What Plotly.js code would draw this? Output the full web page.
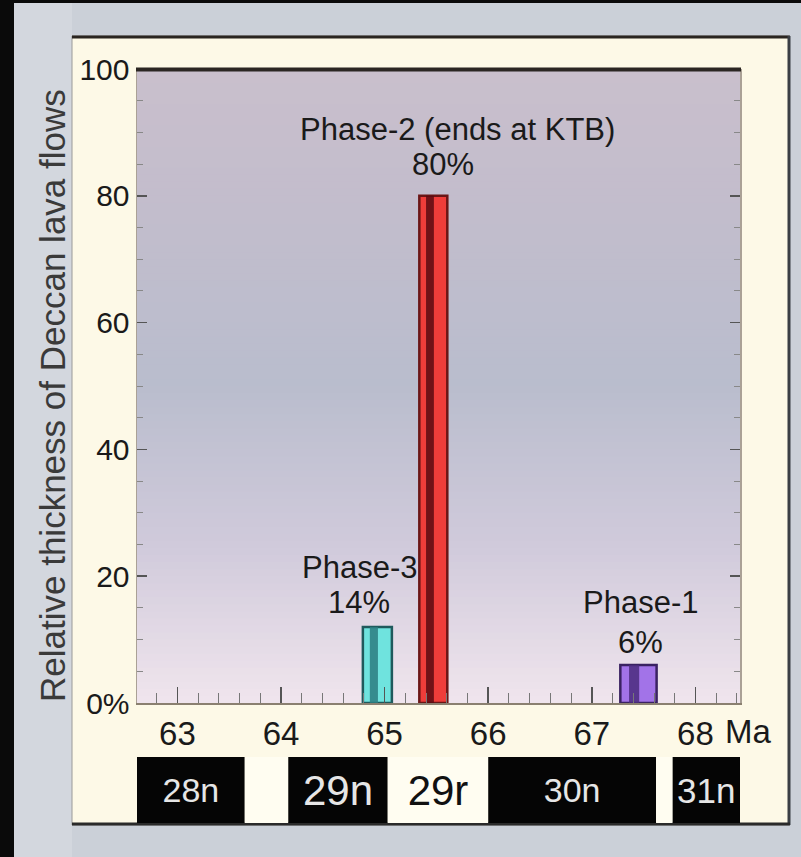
<!DOCTYPE html>
<html>
<head>
<meta charset="utf-8">
<script src="https://cdn.plot.ly/plotly-3.0.1.min.js"></script>
<style>
html,body{margin:0;padding:0;background:#cdd1d9;}
#chart{width:801px;height:857px;}
</style>
</head>
<body>
<div id="chart"></div>
<script>
// ---- Data ----
const phaseNames   = ["Phase-3", "Phase-2 (ends at KTB)", "Phase-1"];
const phaseLabels  = ["14%", "80%", "6%"];
const phaseAgeMa   = [64.93, 65.47, 67.45];   // bar centre (Ma)
const phaseWidthMa = [0.28, 0.27, 0.35];      // bar width (Ma)
const phaseThick   = [12, 80, 6];             // bar height (% relative thickness)

const yTickVals  = [0, 20, 40, 60, 80, 100];
const yTickText  = ["0%", "20", "40", "60", "80", "100"];
const xTickVals  = [63, 64, 65, 66, 67, 68];
const xTickText  = ["63", "64", "65", "66", "67", "68"];

const chronNames = ["28n", "", "29n", "29r", "30n", "", "31n"];
const chronStart = [62.61, 63.65, 64.07, 65.03, 66.00, 67.62, 67.78];
const chronEnd   = [63.65, 64.07, 65.03, 66.00, 67.62, 67.78, 68.43];
const chronPol   = ["n", "r", "n", "r", "n", "r", "n"];

// ---- Styling ----
const FONT = "Liberation Sans, Arial, Helvetica, sans-serif";
const barFill   = ["#6fe3de", "#ef3d3a", "#a273e8"];
const barShade  = ["#2b7d80", "#5a0b12", "#4b2c7e"];
const barBorder = ["#1f5a5c", "#6a1616", "#3a2262"];
const chronFill = chronPol.map(p => p === "n" ? "#050505" : "#fffdf1");
const chronTxt  = chronPol.map(p => p === "n" ? "#e6e6e6" : "#111111");
const chronSize = [34, 0, 42, 42, 34, 0, 35];

// pixel helpers for decoration (plot area: x 137..740, y 69..823)
const W = 801, H = 857, L = 137, R = 740, T = 69, B = 823;
const px = v => (v - L) / (R - L);
const py = v => (B - v) / (B - T);
const mainBottom = py(703);
const chronTop = py(757);

const traces = [
  {
    type: "bar", x: phaseAgeMa, y: phaseThick, width: phaseWidthMa,
    marker: {color: barFill, line: {color: barBorder, width: 2.5}},
    xaxis: "x", yaxis: "y", hoverinfo: "skip", showlegend: false
  },
  {
    type: "bar", x: phaseAgeMa, y: phaseThick,
    width: phaseWidthMa.map(w => w * 0.28),
    offset: phaseWidthMa.map(w => -w * 0.26),
    marker: {color: barShade, opacity: 0.85, line: {width: 0}},
    xaxis: "x", yaxis: "y", hoverinfo: "skip", showlegend: false
  },
  {
    type: "bar", orientation: "h",
    y: chronStart.map(() => 0),
    base: chronStart,
    x: chronStart.map((s, i) => chronEnd[i] - s),
    width: 1,
    text: chronNames,
    textposition: "inside", insidetextanchor: "middle", textangle: 0,
    constraintext: "none",
    textfont: {family: FONT, color: chronTxt, size: chronSize},
    marker: {color: chronFill, line: {width: 0}},
    xaxis: "x", yaxis: "y2", hoverinfo: "skip", showlegend: false
  }
];

// plot-area vertical gradient via stacked strips
function lerp(a, b, t) { return a + (b - a) * t; }
function hex(c) { return [1,3,5].map(i => parseInt(c.substr(i,2),16)); }
const gradStops = [[0, "#c9bfcc"], [0.2, "#c3bdcc"], [0.5, "#b9bdcd"], [0.75, "#d0cadb"], [1, "#f0e5ed"]];
function gradColor(t) {
  for (let i = 0; i < gradStops.length - 1; i++) {
    const [t0, c0] = gradStops[i], [t1, c1] = gradStops[i+1];
    if (t >= t0 && t <= t1) {
      const u = (t - t0) / (t1 - t0), a = hex(c0), b = hex(c1);
      return "rgb(" + a.map((v, k) => Math.round(lerp(v, b[k], u))).join(",") + ")";
    }
  }
  return gradStops[gradStops.length-1][1];
}
const shapes = [];
// lighter band on the left of the slide background
shapes.push({type:"rect", xref:"paper", yref:"paper", x0:px(14), x1:px(72), y0:py(H), y1:py(3), fillcolor:"#d3d7de", line:{width:0}, layer:"below"});
// black frame strips of the slide
shapes.push({type:"rect", xref:"paper", yref:"paper", x0:px(0), x1:px(14), y0:py(H), y1:py(0), fillcolor:"#0a0a0a", line:{width:0}, layer:"below"});
shapes.push({type:"rect", xref:"paper", yref:"paper", x0:px(0), x1:px(W), y0:py(3), y1:py(0), fillcolor:"#0a0a0a", line:{width:0}, layer:"below"});
// cream panel
shapes.push({type:"rect", xref:"paper", yref:"paper", x0:px(72), x1:px(789), y0:py(825), y1:py(36), fillcolor:"#fdf9e7", line:{color:"#9a9a9a", width:1}, layer:"below"});
shapes.push({type:"line", xref:"paper", yref:"paper", x0:px(72), x1:px(790), y0:py(37), y1:py(37), line:{color:"#2a2520", width:3}, layer:"below"});
shapes.push({type:"line", xref:"paper", yref:"paper", x0:px(789), x1:px(789), y0:py(825), y1:py(36), line:{color:"#3a3f45", width:3}, layer:"below"});
shapes.push({type:"line", xref:"paper", yref:"paper", x0:px(72), x1:px(790), y0:py(824), y1:py(824), line:{color:"#2a2a2a", width:3}, layer:"below"});
// gradient
const N = 90;
for (let i = 0; i < N; i++) {
  const t0 = i / N, t1 = (i + 1) / N;
  const yTop = 1 - t0 * (1 - mainBottom), yBot = 1 - t1 * (1 - mainBottom);
  shapes.push({type:"rect", xref:"paper", yref:"paper", x0:0, x1:1, y0:yBot - 0.001, y1:yTop,
    fillcolor: gradColor((t0 + t1) / 2), line:{width:0}, layer:"below"});
}
// thick top edge of plot
shapes.push({type:"line", xref:"paper", yref:"paper", x0:px(136), x1:px(741), y0:py(69.5), y1:py(69.5), line:{color:"#2b2622", width:4}, layer:"above"});

const labelFont = {family:FONT, size:31, color:"#1a1a1a"};
function lab(text, x, y) {
  return {text: text, x: x, y: y, xref:"x", yref:"y", xanchor:"center", yanchor:"middle",
          showarrow:false, font:labelFont};
}
const annotations = [
  lab(phaseNames[1], 65.70, 90.4),
  lab(phaseLabels[1], 65.56, 85.0),
  lab(phaseNames[0], 64.76, 21.4),
  lab(phaseLabels[0], 64.75, 15.8),
  lab(phaseNames[2], 67.47, 15.8),
  lab(phaseLabels[2], 67.47, 9.6),
  {text: "Ma", x: 68, xref:"x", xshift: 28, xanchor:"left", y: py(731), yref:"paper", yanchor:"middle",
   showarrow:false, font:{family:FONT, size:33, color:"#1a1a1a"}},
  {text: "Relative thickness of Deccan lava flows", textangle:-90, x: px(52), xref:"paper", xanchor:"center",
   y: py(396), yref:"paper", yanchor:"middle", showarrow:false, font:{family:FONT, size:35, color:"#3a3a3a"}}
];

const layout = {
  width: W, height: H,
  margin: {l: L, r: W - R, t: T, b: H - B, pad: 0},
  paper_bgcolor: "#cbd0d8",
  plot_bgcolor: "rgba(0,0,0,0)",
  barmode: "overlay",
  showlegend: false,
  font: {family: FONT, color: "#1a1a1a"},
  xaxis: {
    range: [62.61, 68.43], anchor: "y",
    tickvals: xTickVals, ticktext: xTickText,
    ticks: "inside", ticklen: 16, tickwidth: 1.5, tickcolor: "#555",
    minor: {dtick: 0.2, ticks: "inside", ticklen: 10, tickcolor: "#777", tickwidth: 1},
    showline: true, linecolor: "#8a8070", linewidth: 2,
    showgrid: false, zeroline: false,
    tickfont: {family: FONT, size: 33, color: "#1a1a1a"},
    ticklabelstandoff: 0
  },
  yaxis: {
    domain: [mainBottom, 1], range: [0, 100],
    tickvals: yTickVals, ticktext: yTickText,
    ticks: "inside", ticklen: 10, tickwidth: 1.5, tickcolor: "#555",
    minor: {dtick: 5, ticks: "inside", ticklen: 6, tickcolor: "#888", tickwidth: 1},
    showline: true, linecolor: "#aaa196", linewidth: 1.5, mirror: "allticks",
    showgrid: false, zeroline: false,
    tickfont: {family: FONT, size: 30, color: "#1a1a1a"},
    ticklabelstandoff: 0
  },
  xaxis2: {visible: false},
  yaxis2: {domain: [0, chronTop], range: [-0.5, 0.5], anchor: "x", visible: false, fixedrange: true},
  shapes: shapes,
  annotations: annotations
};

Plotly.newPlot("chart", traces, layout, {displayModeBar: false, staticPlot: true});
</script>
</body>
</html>
